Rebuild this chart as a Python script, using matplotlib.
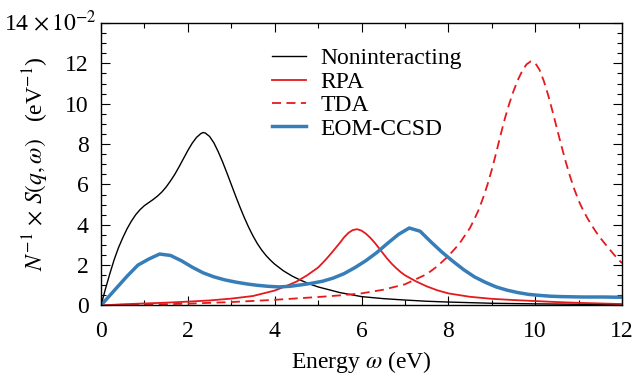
import numpy as np
import matplotlib
matplotlib.use('Agg')
import matplotlib.pyplot as plt

plt.rcParams['font.family'] = ['Liberation Serif', 'DejaVu Serif']
plt.rcParams['mathtext.fontset'] = 'stix'
plt.rcParams['font.size'] = 17

# values in units of 1e-2 eV^-1
x_nonint = [0, 0.1, 0.2, 0.3, 0.4, 0.5, 0.6, 0.7, 0.8, 0.9, 1.0, 1.1, 1.2, 1.3, 1.4,
            1.5, 1.6, 1.7, 1.8, 1.9, 2.0, 2.1, 2.2, 2.3, 2.35, 2.4, 2.5, 2.6, 2.7, 2.8,
            2.9, 3.0, 3.1, 3.2, 3.3, 3.4, 3.5, 3.6, 3.7, 3.8, 3.9, 4.0, 4.2, 4.4, 4.6,
            4.8, 5.0, 5.5, 6.0, 6.5, 7.0, 7.5, 8.0, 9.0, 10.0, 11.0, 12.0]
y_nonint = [0, 0.8, 1.55, 2.25, 2.85, 3.35, 3.8, 4.18, 4.5, 4.75, 4.95, 5.1, 5.25, 5.42, 5.62,
            5.87, 6.17, 6.5, 6.88, 7.28, 7.68, 8.04, 8.33, 8.52, 8.57, 8.55, 8.38, 8.06, 7.62, 7.12,
            6.57, 6.0, 5.43, 4.88, 4.36, 3.88, 3.45, 3.07, 2.75, 2.48, 2.25, 2.05, 1.72, 1.46, 1.25,
            1.07, 0.92, 0.64, 0.44, 0.34, 0.27, 0.21, 0.17, 0.11, 0.08, 0.06, 0.05]

x_rpa = [0, 0.5, 1.0, 1.5, 2.0, 2.5, 3.0, 3.5, 4.0, 4.25, 4.5, 4.75, 5.0, 5.1, 5.2,
         5.3, 5.4, 5.5, 5.6, 5.7, 5.8, 5.9, 6.0, 6.1, 6.2, 6.3, 6.4, 6.5, 6.6,
         6.7, 6.8, 6.9, 7.0, 7.25, 7.5, 7.75, 8.0, 8.5, 9.0, 9.5, 10.0, 10.5, 11.0,
         11.5, 12.0]
y_rpa = [0, 0.06, 0.1, 0.14, 0.19, 0.25, 0.34, 0.47, 0.74, 0.95, 1.18, 1.5, 1.88, 2.1, 2.33,
         2.58, 2.84, 3.1, 3.38, 3.6, 3.74, 3.78, 3.71, 3.56, 3.36, 3.12, 2.85, 2.57, 2.3,
         2.06, 1.85, 1.66, 1.5, 1.2, 0.95, 0.75, 0.6, 0.43, 0.33, 0.27, 0.22, 0.17, 0.13,
         0.1, 0.07]

x_tda = [0, 1, 2, 3, 4, 5, 5.5, 6, 6.5, 7, 7.5, 7.75, 8.0, 8.25, 8.5, 8.6, 8.7, 8.8,
         8.9, 9.0, 9.1, 9.2, 9.3, 9.4, 9.5, 9.6, 9.7, 9.8, 9.9, 10.0, 10.1, 10.2,
         10.3, 10.4, 10.5, 10.6, 10.7, 10.8, 10.9, 11.0, 11.1, 11.2, 11.3, 11.4, 11.5,
         11.6, 11.7, 11.8, 11.9, 12.0]
y_tda = [0, 0.04, 0.09, 0.17, 0.28, 0.42, 0.5, 0.6, 0.78, 1.05, 1.55, 1.95, 2.45, 3.05, 3.85,
         4.28, 4.75, 5.33, 5.98, 6.72, 7.55, 8.42, 9.25, 9.98, 10.62, 11.17, 11.62, 11.95, 12.1,
         12.02, 11.68, 11.12, 10.42, 9.62, 8.78, 7.95, 7.15, 6.42, 5.77, 5.2, 4.74, 4.34, 3.98,
         3.65, 3.35, 3.08, 2.82, 2.56, 2.31, 2.1]

x_eom = [0, 0.1, 0.35, 0.6, 0.85, 1.1, 1.35, 1.6, 1.85, 2.1, 2.35, 2.6, 2.85, 3.1, 3.35,
         3.6, 3.85, 4.1, 4.35, 4.6, 4.85, 5.1, 5.35, 5.6, 5.85, 6.1, 6.35, 6.6, 6.85,
         7.1, 7.35, 7.6, 7.85, 8.1, 8.35, 8.6, 8.85, 9.1, 9.35, 9.6, 9.85, 10.1, 10.35,
         10.6, 10.85, 11.1, 11.35, 11.6, 11.85, 12.0]
y_eom = [0, 0.25, 0.85, 1.45, 2.0, 2.3, 2.55, 2.48, 2.22, 1.9, 1.62, 1.42, 1.27, 1.16, 1.07,
         1.0, 0.95, 0.92, 0.95, 1.02, 1.1, 1.2, 1.36, 1.58, 1.88, 2.22, 2.62, 3.08, 3.52,
         3.84, 3.68, 3.15, 2.65, 2.2, 1.78, 1.42, 1.15, 0.92, 0.76, 0.64, 0.55, 0.5, 0.46,
         0.44, 0.43, 0.42, 0.42, 0.42, 0.41, 0.41]

red = '#e41a1c'
blue = '#377eb8'

fig = plt.figure(figsize=(6.36, 3.77), dpi=100)
ax = fig.add_axes([0.1588, 0.1897, 0.8192, 0.7493])

ax.plot(x_nonint, y_nonint, color='k', lw=1.0, label='Noninteracting')
ax.plot(x_rpa, y_rpa, color=red, lw=1.3, label='RPA')
ax.plot(x_tda, y_tda, color=red, lw=1.3, dashes=(5.0, 3.0), label='TDA')
ax.plot(x_eom, y_eom, color=blue, lw=2.5, label='EOM-CCSD')

ax.set_xlim(0, 12)
ax.set_ylim(0, 14)
ax.set_xticks(np.arange(0, 13, 2))
ax.set_xticks(np.arange(0, 13, 1), minor=True)
ax.set_yticks(np.arange(0, 15, 2))
ax.set_yticks(np.arange(0, 14.1, 0.5), minor=True)
ax.set_yticklabels([str(v) for v in range(0, 13, 2)] + [''])
ax.tick_params(which='both', direction='in', top=True, right=True, width=0.8)
ax.tick_params(which='major', length=6.5)
ax.tick_params(axis='x', which='major', pad=11)
ax.tick_params(axis='y', which='major', pad=9)
ax.tick_params(which='minor', length=3.6)
for s in ax.spines.values():
    s.set_linewidth(1.0)

ax.text(-0.008, 14, r'14 $\times\, 10^{-2}$', transform=ax.get_yaxis_transform(),
        ha='right', va='center')

ax.set_xlabel(r'Energy $\omega$ (eV)', labelpad=5)
ax.set_ylabel(r'$N^{-1} \,\times\, S(q,\omega) \quad$(eV$^{-1}$)', labelpad=10)

ax.legend(loc='upper left', bbox_to_anchor=(0.328, 0.912), frameon=False,
          borderaxespad=0, borderpad=0, handlelength=1.45, handletextpad=0.6,
          labelspacing=0.08)

plt.savefig('out.png', dpi=100)
